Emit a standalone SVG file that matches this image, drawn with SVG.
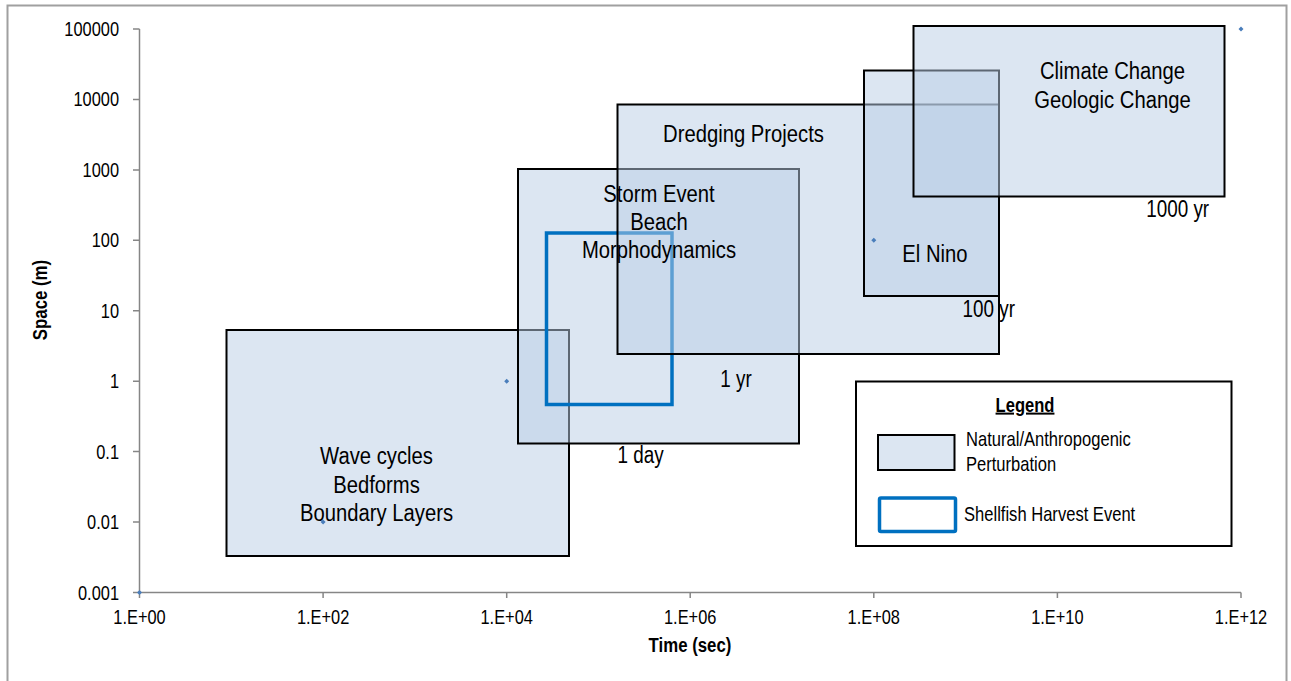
<svg xmlns="http://www.w3.org/2000/svg" width="1291" height="681" viewBox="0 0 1291 681">
<style>
.t{font-family:"Liberation Sans",Arial,sans-serif;fill:#000}
.tick{font-size:20px;text-anchor:end}
.xt{font-size:20px;text-anchor:middle}
.lab{font-size:24.7px;text-anchor:middle}
.ann{font-size:23px;text-anchor:middle}
.leg{font-size:20.2px}
.b{font-weight:bold}
.box{fill:#B9CDE5;fill-opacity:0.5;stroke:#000;stroke-width:2}
.harv{fill:none;stroke:#0070C0;stroke-width:3.5}
.ax{stroke:#868686;stroke-width:1.5;fill:none}
.dot{fill:#4A7EBB}
</style>
<rect x="7.5" y="5.5" width="1279" height="690" fill="#fff" stroke="#A0A0A0" stroke-width="2"/>
<g id="axes">
<path class="ax" d="M139.5 29V592.5H1241"/>
<path class="ax" d="M133 29H139.5M133 99.4H139.5M133 169.9H139.5M133 240.3H139.5M133 310.8H139.5M133 381.2H139.5M133 451.6H139.5M133 522.1H139.5M133 592.5H139.5"/>
<path class="ax" d="M139.5 592.5V598M323.1 592.5V598M506.7 592.5V598M690.2 592.5V598M873.8 592.5V598M1057.4 592.5V598M1241 592.5V598"/>
<g class="t tick">
<text transform="matrix(0.82 0 0 1 119 36)">100000</text>
<text transform="matrix(0.82 0 0 1 119 106.4)">10000</text>
<text transform="matrix(0.82 0 0 1 119 176.9)">1000</text>
<text transform="matrix(0.82 0 0 1 119 247.3)">100</text>
<text transform="matrix(0.82 0 0 1 119 317.8)">10</text>
<text transform="matrix(0.82 0 0 1 119 388.2)">1</text>
<text transform="matrix(0.82 0 0 1 119 458.6)">0.1</text>
<text transform="matrix(0.82 0 0 1 119 529.1)">0.01</text>
<text transform="matrix(0.82 0 0 1 119 599.5)">0.001</text>
</g>
<g class="t xt">
<text transform="matrix(0.82 0 0 1 139.5 624)">1.E+00</text>
<text transform="matrix(0.82 0 0 1 323.1 624)">1.E+02</text>
<text transform="matrix(0.82 0 0 1 506.7 624)">1.E+04</text>
<text transform="matrix(0.82 0 0 1 690.2 624)">1.E+06</text>
<text transform="matrix(0.82 0 0 1 873.8 624)">1.E+08</text>
<text transform="matrix(0.82 0 0 1 1057.4 624)">1.E+10</text>
<text transform="matrix(0.82 0 0 1 1241 624)">1.E+12</text>
</g>
<text class="t b" transform="matrix(0.82 0 0 1 690 652)" font-size="20.5" text-anchor="middle">Time (sec)</text>
<text class="t b" transform="translate(47 300) rotate(-90) scale(0.82 1)" font-size="20.5" text-anchor="middle">Space (m)</text>
</g>
<g id="nodes">
<g id="node-wave"><rect class="box" x="226.5" y="330" width="342.5" height="226"/></g>
<g id="node-storm"><rect class="box" x="518" y="169" width="281" height="274.5"/></g>
<g id="node-harvest"><rect class="harv" x="546.5" y="233" width="125.5" height="171.5"/></g>
<g id="node-dredging"><rect class="box" x="617.5" y="104.5" width="381.5" height="249.5"/></g>
<g id="node-elnino"><rect class="box" x="864" y="70.5" width="135" height="225.5"/></g>
<g id="node-climate"><rect class="box" x="913.5" y="26" width="311" height="170.5"/></g>
</g>
<g id="series">
<path class="dot" d="M139.5 590l2.5 2.5-2.5 2.5-2.5-2.5zM323.1 519.6l2.5 2.5-2.5 2.5-2.5-2.5zM506.7 378.7l2.5 2.5-2.5 2.5-2.5-2.5zM873.8 237.8l2.5 2.5-2.5 2.5-2.5-2.5zM1241 26.5l2.5 2.5-2.5 2.5-2.5-2.5z"/>
</g>
<g id="labels" class="t lab">
<g id="label-wave"><text transform="matrix(0.82 0 0 1 376.5 464)">Wave cycles</text><text transform="matrix(0.82 0 0 1 376.5 492.5)">Bedforms</text><text transform="matrix(0.82 0 0 1 376.5 521)">Boundary Layers</text></g>
<g id="label-storm"><text transform="matrix(0.82 0 0 1 659 201.5)">Storm Event</text><text transform="matrix(0.82 0 0 1 659 229.5)">Beach</text><text transform="matrix(0.82 0 0 1 659 257.5)">Morphodynamics</text></g>
<g id="label-dredging"><text transform="matrix(0.82 0 0 1 743.5 141.7)">Dredging Projects</text></g>
<g id="label-elnino"><text transform="matrix(0.82 0 0 1 935 261.7)">El Nino</text></g>
<g id="label-climate"><text transform="matrix(0.82 0 0 1 1112.5 79.3)">Climate Change</text><text transform="matrix(0.82 0 0 1 1112.5 107.5)">Geologic Change</text></g>
</g>
<g id="annotations" class="t ann">
<text transform="matrix(0.82 0 0 1 640.5 463.3)">1 day</text>
<text transform="matrix(0.82 0 0 1 736 387)">1 yr</text>
<text transform="matrix(0.82 0 0 1 988.8 316.7)">100 yr</text>
<text transform="matrix(0.82 0 0 1 1177.7 216.7)">1000 yr</text>
</g>
<g id="legend">
<rect x="856" y="381.5" width="375.5" height="164.5" fill="#fff" stroke="#000" stroke-width="2"/>
<text class="t leg b" transform="matrix(0.82 0 0 1 1025 411.5)" text-anchor="middle" text-decoration="underline">Legend</text>
<rect class="box" x="878" y="435" width="76.5" height="35" fill-opacity="0.55"/>
<text class="t leg" transform="matrix(0.82 0 0 1 966 446)">Natural/Anthropogenic</text>
<text class="t leg" transform="matrix(0.82 0 0 1 966 470.7)">Perturbation</text>
<rect x="879.5" y="498" width="76" height="33.5" rx="1.5" fill="#fff" stroke="#0070C0" stroke-width="3.5"/>
<text class="t leg" transform="matrix(0.82 0 0 1 964 521)">Shellfish Harvest Event</text>
</g>
</svg>
